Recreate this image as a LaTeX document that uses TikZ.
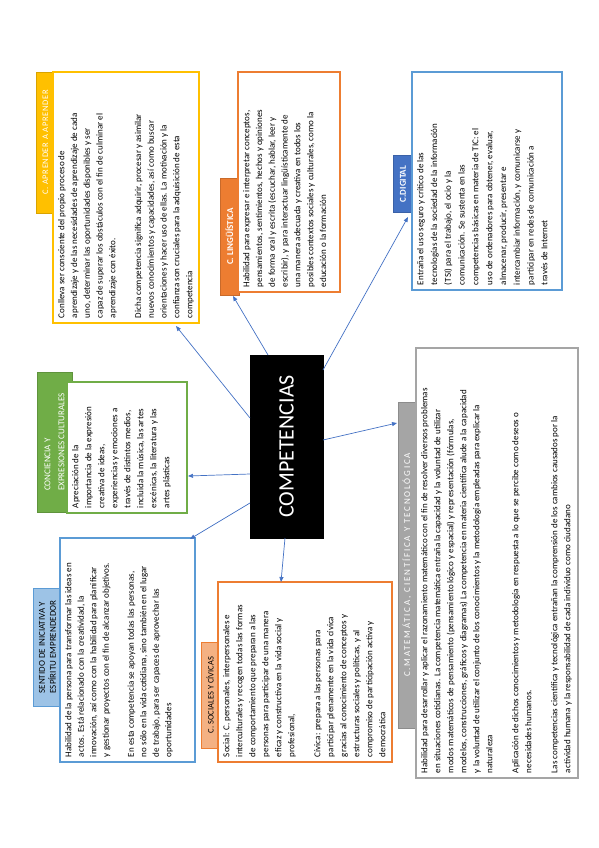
\documentclass[tikz,border=0pt]{standalone}
\usepackage{fontspec}
\setmainfont{Carlito}
\usetikzlibrary{arrows.meta}
\definecolor{cgold}{HTML}{FFC000}
\definecolor{corange}{HTML}{ED7D31}
\definecolor{cblue}{HTML}{4472C4}
\definecolor{clblue}{HTML}{5B9BD5}
\definecolor{cpale}{HTML}{9DC3E6}
\definecolor{cgreen}{HTML}{70AD47}
\definecolor{cgrey}{HTML}{A5A5A5}
\definecolor{csalmon}{HTML}{F4B183}
\definecolor{ctext}{HTML}{000000}
\newcommand\tline[1]{\mbox{#1}\par}
\newcommand\bodytext[3]{\parbox[c][#2][t]{#1}{\raggedright #3}}
\tikzset{
  body/.style={draw, line width=1.1pt, fill=white, rotate=90, inner sep=5pt, text=ctext},
  lab/.style={rotate=90, inner sep=1pt, line width=0.8pt, align=center},
  arr/.style={draw=cblue, line width=0.7pt, -{Triangle[length=5pt,width=4pt]}}
}
\begin{document}
\begin{tikzpicture}[x=1pt,y=-1pt]
\useasboundingbox (0,0) rectangle (599,848);

% ---------- labels ----------
\node[lab, fill=cgold, draw=cgold!85!black, minimum width=141, minimum height=19, text=white,
  font=\fontsize{8.5}{10}\selectfont\addfontfeatures{LetterSpace=8}] (aprL) at (45.5,142.5) {C. APRENDER A APRENDER};
\node[lab, fill=corange, draw=corange!85!black, minimum width=117, minimum height=19, text=white,
  font=\fontsize{9}{10}\selectfont\bfseries] (linL) at (229.5,236.5) {C. LINGÜÍSTICA};
\node[lab, fill=cblue, draw=cblue!85!black, minimum width=57, minimum height=19, text=white,
  font=\fontsize{9}{10}\selectfont\bfseries] (digL) at (403,184) {C.DIGITAL};
\node[lab, align=left, fill=cgreen, draw=cgreen!85!black, minimum width=140, minimum height=35, text=white,
  font=\fontsize{9}{14}\selectfont] (conL) at (54.5,442) {CONCIENCIA Y\\EXPRESIONES CULTURALES};
\node[lab, align=left, fill=cpale, draw=clblue, minimum width=118, minimum height=29, text=ctext,
  font=\fontsize{9}{11}\selectfont] (senL) at (47.5,647) {SENTIDO DE INICIATIVA Y\\ESPÍRITU EMPRENDEDOR};
\node[lab, fill=csalmon, draw=corange, minimum width=106, minimum height=18, text=ctext,
  font=\fontsize{8.5}{10}\selectfont] (socL) at (210,695) {C. SOCIALES Y CÍVICAS};
\node[lab, fill=cgrey, draw=cgrey!85!black, minimum width=326, minimum height=18, text=white,
  font=\fontsize{9}{10}\selectfont\addfontfeatures{LetterSpace=20}] (matL) at (407,565) {C.MATEMÁTICA, CIENTÍFICA Y TECNOLÓGICA};

% ---------- bodies ----------
\node[body, draw=cgold, font=\fontsize{9}{12.8}\selectfont] (aprB) at (126,197.5) {\bodytext{241pt}{136pt}{%
\tline{Conlleva ser consciente del propio proceso de}
\tline{aprendizaje y de las necesidades de aprendizaje de cada}
\tline{uno, determinar las oportunidades disponibles y ser}
\tline{capaz de superar los obstáculos con el fin de culminar el}
\tline{aprendizaje con éxito.}
\tline{}
\tline{Dicha competencia significa adquirir, procesar y asimilar}
\tline{nuevos conocimientos y capacidades, así como buscar}
\tline{orientaciones y hacer uso de ellas. La motivación y la}
\tline{confianza son cruciales para la adquisición de esta}
\tline{competencia}}};

\node[body, draw=corange, font=\fontsize{9}{12.8}\selectfont] (linB) at (289,182) {\bodytext{210pt}{92pt}{%
\tline{Habilidad para expresar e interpretar conceptos,}
\tline{pensamientos, sentimientos, hechos y opiniones}
\tline{de forma oral y escrita (escuchar, hablar, leer y}
\tline{escribir), y para interactuar lingüísticamente de}
\tline{una manera adecuada y creativa en todos los}
\tline{posibles contextos sociales y culturales, como la}
\tline{educación o la formación}}};

\node[body, draw=clblue, font=\fontsize{9}{13.8}\selectfont] (digB) at (487,181) {\bodytext{208pt}{140pt}{%
\tline{Entraña el uso seguro y crítico de las}
\tline{tecnologías de la sociedad de la información}
\tline{(TSI) para el trabajo, el ocio y la}
\tline{comunicación. Se sustenta en las}
\tline{competencias básicas en materia de TIC: el}
\tline{uso de ordenadores para obtener, evaluar,}
\tline{almacenar, producir, presentar e}
\tline{intercambiar información, y comunicarse y}
\tline{participar en redes de comunicación a}
\tline{través de Internet}}};

\node[body, draw=cgreen, font=\fontsize{9}{13}\selectfont] (conB) at (127,447.5) {\bodytext{121pt}{110pt}{%
\tline{Apreciación de la}
\tline{importancia de la expresión}
\tline{creativa de ideas,}
\tline{experiencias y emociones a}
\tline{través de distintos medios,}
\tline{incluida la música, las artes}
\tline{escénicas, la literatura y las}
\tline{artes plásticas}}};

\node[body, draw=clblue, font=\fontsize{9}{12.5}\selectfont] (senB) at (127.5,650) {\bodytext{214pt}{125pt}{%
\tline{Habilidad de la persona para transformar las ideas en}
\tline{actos. Está relacionado con la creatividad, la}
\tline{innovación, así como con la habilidad para planificar}
\tline{y gestionar proyectos con el fin de alcanzar objetivos.}
\tline{}
\tline{En esta competencia se apoyan todas las personas,}
\tline{no sólo en la vida cotidiana, sino también en el lugar}
\tline{de trabajo, para ser capaces de aprovechar las}
\tline{oportunidades}}};

\node[body, draw=corange, font=\fontsize{9}{13}\selectfont] (socB) at (305,672) {\bodytext{170pt}{164pt}{%
\tline{Social: C. personales, interpersonales e}
\tline{interculturales y recogen todas las formas}
\tline{de comportamiento que preparan a las}
\tline{personas para participar de una manera}
\tline{eficaz y constructiva en la vida social y}
\tline{profesional,}
\tline{}
\tline{Cívica: prepara a las personas para}
\tline{participar plenamente en la vida cívica}
\tline{gracias al conocimiento de conceptos y}
\tline{estructuras sociales y políticas, y al}
\tline{compromiso de participación activa y}
\tline{democrática}}};

\node[body, draw=cgrey, font=\fontsize{9}{13}\selectfont] (matB) at (497,563) {\bodytext{420pt}{152pt}{%
\tline{Habilidad para desarrollar y aplicar el razonamiento matemático con el fin de resolver diversos problemas}
\tline{en situaciones cotidianas. La competencia matemática entraña la capacidad y la voluntad de utilizar}
\tline{modos matemáticos de pensamiento (pensamiento lógico y espacial) y representación (fórmulas,}
\tline{modelos, construcciones, gráficos y diagramas) La competencia en materia científica alude a la capacidad}
\tline{y la voluntad de utilizar el conjunto de los conocimientos y la metodología empleadas para explicar la}
\tline{naturaleza}
\tline{}
\tline{Aplicación de dichos conocimientos y metodología en respuesta a lo que se percibe como deseos o}
\tline{necesidades humanos.}
\tline{}
\tline{Las competencias científica y tecnológica entrañan la comprensión de los cambios causados por la}
\tline{actividad humana y la responsabilidad de cada individuo como ciudadano}}};

% ---------- centre ----------
\node[rotate=90, fill=black, draw=black, minimum width=183, minimum height=73, inner sep=0pt,
  text=white, font=\fontsize{22}{24}\selectfont] (cen) at (286.5,446.5) {COMPETENCIAS};

% ---------- connectors ----------
\coordinate (s1) at (250,418); \coordinate (e1) at (176,326);
\coordinate (s2) at (268,355); \coordinate (e2) at (233,296);
\coordinate (s3) at (323,370); \coordinate (e3) at (408,217);
\coordinate (s4) at (250,474); \coordinate (e4) at (188,476);
\coordinate (s5) at (250,503); \coordinate (e5) at (190,539);
\coordinate (s6) at (285,538); \coordinate (e6) at (281,582);
\coordinate (s7) at (323,440); \coordinate (e7) at (397,423);
\draw[arr] (s1) -- (e1);
\draw[arr] (s2) -- (e2);
\draw[arr] (s3) -- (e3);
\draw[arr] (s4) -- (e4);
\draw[arr] (s5) -- (e5);
\draw[arr] (s6) -- (e6);
\draw[arr] (s7) -- (e7);
\end{tikzpicture}
\end{document}
